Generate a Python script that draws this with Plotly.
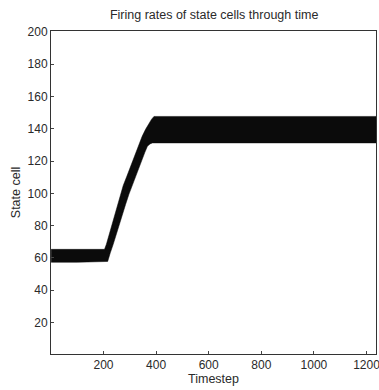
import plotly.graph_objects as go

# Upper (top/left) edge of the active band of state cells
upper_t = [1, 100, 204, 211, 222, 233, 243, 252, 264, 275, 288, 298, 309, 318, 326, 337, 347, 360, 373, 383, 392, 600, 800, 1000, 1236]
upper_v = [65.3, 65.3, 65.3, 68.4, 74.8, 80.7, 87.2, 93.1, 99.6, 104.8, 110.2, 114.6, 118.8, 123.2, 127.0, 131.3, 135.3, 139.6, 143.5, 145.9, 147.6, 147.6, 147.6, 147.6, 147.6]

# Lower (bottom/right) edge of the active band
lower_t = [1, 100, 216, 226, 237, 250, 262, 273, 284, 297, 309, 322, 335, 347, 357, 367, 377, 386, 600, 800, 1000, 1236]
lower_v = [57.3, 57.3, 57.8, 63.2, 68.4, 74.8, 80.7, 87.0, 93.1, 99.5, 105.2, 110.6, 116.0, 120.9, 125.2, 129.1, 130.6, 131.2, 131.2, 131.2, 131.2, 131.2]

x_ticks = [200, 400, 600, 800, 1000, 1200]
y_ticks = [20, 40, 60, 80, 100, 120, 140, 160, 180, 200]

band_x = upper_t + lower_t[::-1]
band_y = upper_v + lower_v[::-1]

fig = go.Figure()
fig.add_trace(go.Scatter(
    x=band_x, y=band_y, mode="lines", fill="toself",
    fillcolor="#0b0b0b", line=dict(color="#0b0b0b", width=0.5),
    hoverinfo="skip", showlegend=False,
))

txt = "#2a2a2a"
font = dict(family="Liberation Sans, Arial, sans-serif", size=12, color=txt)

fig.update_layout(
    width=379, height=390,
    margin=dict(l=51, r=3, t=31, b=36, autoexpand=False),
    paper_bgcolor="white", plot_bgcolor="white",
    font=font,
    title=dict(text="Firing rates of state cells through time", x=0.565, xanchor="center",
               y=0.962, yanchor="middle", font=dict(size=12.5, color=txt)),
    xaxis=dict(range=[0.5, 1236], tickvals=x_ticks, ticks="inside", ticklen=3,
               ticklabeloverflow="allow",
               showline=True, mirror=True, linecolor="#333333", linewidth=1,
               showgrid=False, zeroline=False, automargin=False,
               title=dict(text="Timestep", standoff=2, font=dict(size=12.5))),
    yaxis=dict(range=[0.5, 200.5], tickvals=y_ticks, ticks="inside", ticklen=3,
               ticklabeloverflow="allow",
               showline=True, mirror=True, linecolor="#333333", linewidth=1,
               showgrid=False, zeroline=False, automargin=False,
               title=dict(text="State cell", standoff=4, font=dict(size=12.5))),
)

fig.write_html("out.html", config={"displayModeBar": False},
               post_script="document.body.style.margin='0';")
